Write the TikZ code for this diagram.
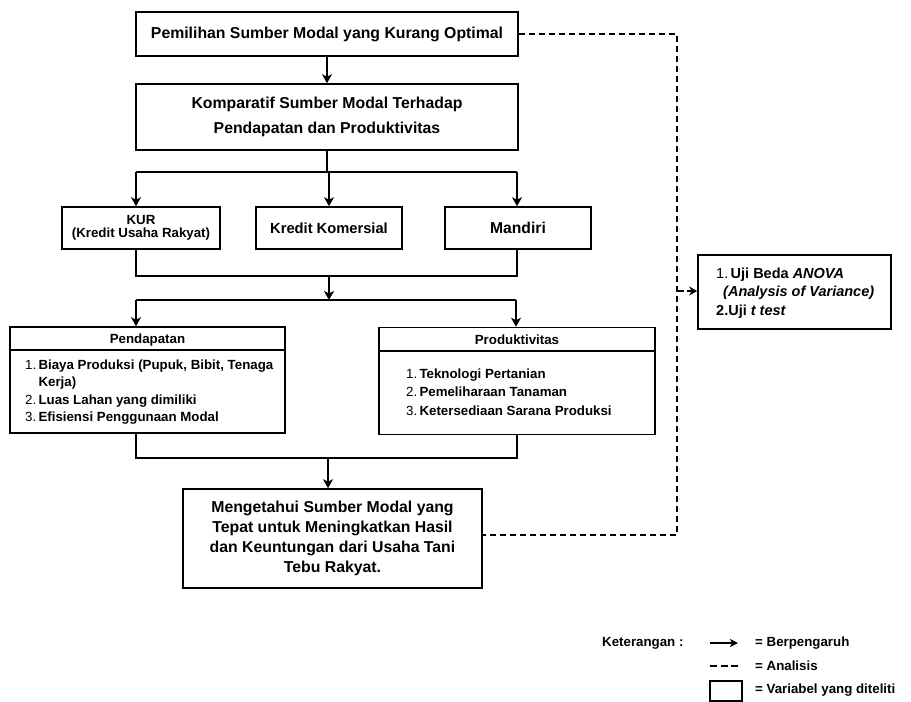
\documentclass[tikz,border=0pt]{standalone}
\usepackage{fontspec}
\setmainfont{Liberation Sans}
\usetikzlibrary{arrows.meta}
\begin{document}
\begin{tikzpicture}[x=1pt,y=-1pt,
  box/.style={draw, line width=1.6pt, inner sep=0pt, align=center},
  arr/.style={line width=2.1pt, -{Stealth[length=9pt,width=10pt,inset=2.5pt]}},
  ln/.style={line width=2.1pt},
  dsh/.style={line width=1.8pt, dash pattern=on 6.5pt off 3.5pt},
  txt/.style={inner sep=0pt, align=left}]
\useasboundingbox (0,0) rectangle (911,702);
\fill[white] (0,0) rectangle (911,702);

% main boxes
\node[box, minimum width=382pt, minimum height=44pt, font=\fontsize{15.8}{19}\bfseries] (b1) at (327,34) {Pemilihan Sumber Modal yang Kurang Optimal};
\node[box, minimum width=382pt, minimum height=66pt, font=\fontsize{15.8}{25}\bfseries] (b2) at (327,117) {Komparatif Sumber Modal Terhadap\\Pendapatan dan Produktivitas};

\node[box, minimum width=158pt, minimum height=42pt, font=\fontsize{13.3}{13.5}\bfseries] (kur) at (141,228) {KUR\\(Kredit Usaha Rakyat)};
\node[box, minimum width=146pt, minimum height=42pt, font=\fontsize{14.7}{17}\bfseries] (kk) at (329,228) {Kredit Komersial};
\node[box, minimum width=146pt, minimum height=42pt, font=\fontsize{15.7}{18}\bfseries] (man) at (518,228) {Mandiri};

% Pendapatan
\node[box, minimum width=275pt, minimum height=106pt] (pend) at (147.5,380) {};
\draw[line width=1.6pt] ([yshift=-24pt]pend.north west) -- ([yshift=-24pt]pend.north east);
\node[txt, font=\fontsize{13.3}{16}\bfseries] (pendh) at (147.5,340) {Pendapatan};
\node[txt, anchor=base west, font=\fontsize{13.3}{17.4}\bfseries] (pendl) at (25,369.5)
 {\begin{tabular}[t]{@{}l@{}l@{}}
  {\mdseries 1.}&\,Biaya Produksi (Pupuk, Bibit, Tenaga\\
  &\,Kerja)\\
  {\mdseries 2.}&\,Luas Lahan yang dimiliki\\
  {\mdseries 3.}&\,Efisiensi Penggunaan Modal
  \end{tabular}};

% Produktivitas
\node[box, minimum width=276pt, minimum height=107pt] (prod) at (517,381) {};
\draw[line width=1.6pt] ([yshift=-24pt]prod.north west) -- ([yshift=-24pt]prod.north east);
\node[txt, font=\fontsize{13.3}{16}\bfseries] (prodh) at (517,340) {Produktivitas};
\node[txt, anchor=base west, font=\fontsize{13.3}{18.3}\bfseries] (prodl) at (406,378.5)
 {\begin{tabular}[t]{@{}l@{}l@{}}
  {\mdseries 1.}&\,Teknologi Pertanian\\
  {\mdseries 2.}&\,Pemeliharaan Tanaman\\
  {\mdseries 3.}&\,Ketersediaan Sarana Produksi
  \end{tabular}};

% final box
\node[box, minimum width=299pt, minimum height=99pt, font=\fontsize{15.8}{20}\bfseries] (fin) at (332.5,538.5) {Mengetahui Sumber Modal yang\\Tepat untuk Meningkatkan Hasil\\dan Keuntungan dari Usaha Tani\\Tebu Rakyat.};

% right box
\node[box, minimum width=193pt, minimum height=74pt] (uji) at (794.5,292) {};
\node[txt, anchor=base west, font=\fontsize{14.5}{18.5}\bfseries] (ujil) at (716,278)
 {\begin{tabular}[t]{@{}l@{}}
  {\mdseries 1.}\,Uji Beda \textit{ANOVA}\\
  \hspace*{7pt}\textit{(Analysis of Variance)}\\
  2.Uji \textit{t test}
  \end{tabular}};

% connectors (solid)
\coordinate (h1l) at (136,172);
\coordinate (h1r) at (517,172);
\draw[arr] (b1.south -| b2.north) -- (b2.north);
\draw[ln] (b2.south) -- (b2.south |- h1l);
\draw[ln] (h1l) -- (h1r);
\draw[arr] (h1l) -- (h1l |- kur.north);
\draw[arr] (kk.north |- h1l) -- (kk.north);
\draw[arr] (h1r) -- (h1r |- man.north);

\coordinate (h2l) at (136,276);
\coordinate (h2r) at (517,276);
\coordinate (h2m) at (329,276);
\coordinate (h3l) at (136,300);
\coordinate (h3r) at (516,300);
\coordinate (h3m) at (329,300);
\draw[ln] (kur.south -| h2l) -- (h2l) -- (h2r) -- (man.south -| h2r);
\draw[arr] (h2m) -- (h3m);
\draw[ln] (h3l) -- (h3r);
\draw[arr] (h3l) -- (h3l |- pend.north);
\draw[arr] (h3r) -- (h3r |- prod.north);

\coordinate (h4l) at (136,458);
\coordinate (h4r) at (517,458);
\coordinate (h4m) at (328,458);
\draw[ln] (pend.south -| h4l) -- (h4l) -- (h4r) -- (prod.south -| h4r);
\draw[arr] (h4m) -- (h4m |- fin.north);

% dashed
\coordinate (dtop) at (677,34);
\coordinate (dbot) at (677,535);
\coordinate (dmid) at (677,291);
\draw[dsh] (b1.east) -- (dtop) -- (dbot) -- (fin.east |- dbot);
\draw[dsh, -{Stealth[length=8pt,width=9pt,inset=2.5pt]}] (dmid) -- (uji.west |- dmid);

% legend
\node[txt, anchor=west, font=\fontsize{13.3}{16}\bfseries] (ket) at (602,643) {Keterangan :};
\coordinate (l1a) at (710,643);
\coordinate (l1b) at (738,643);
\draw[line width=1.9pt, -{Stealth[length=8pt,width=8pt,inset=2pt]}] (l1a) -- (l1b);
\node[txt, anchor=west, font=\fontsize{13.3}{16}\bfseries] (t1) at (755,643) {= Berpengaruh};
\coordinate (l2a) at (710,666);
\coordinate (l2b) at (738,666);
\draw[line width=1.9pt, dash pattern=on 7pt off 3.5pt] (l2a) -- (l2b);
\node[txt, anchor=west, font=\fontsize{13.3}{16}\bfseries] (t2) at (755,666) {= Analisis};
\node[draw, line width=1.3pt, minimum width=32pt, minimum height=20pt, inner sep=0pt] (sq) at (726,691) {};
\node[txt, anchor=west, font=\fontsize{13.3}{16}\bfseries] (t3) at (755,690) {= Variabel yang diteliti};
\end{tikzpicture}
\end{document}
